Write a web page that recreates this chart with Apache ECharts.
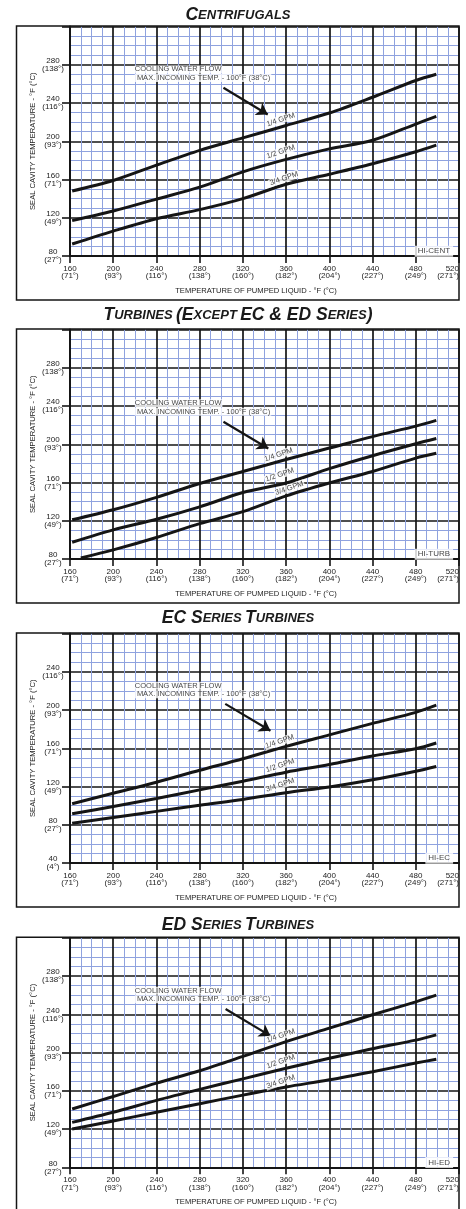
<!DOCTYPE html>
<html><head><meta charset="utf-8">
<script src="https://cdn.jsdelivr.net/npm/echarts@6/dist/echarts.min.js"></script>
<style>html,body{margin:0;padding:0;background:#fff}#c{width:466px;height:1209px}</style>
</head><body><div id="c"></div>
<script>
// ---- tick labels ----
const xTickF = [160, 200, 240, 280, 320, 360, 400, 440, 480, 520];
const xTickC = ['71°', '93°', '116°', '138°', '160°', '182°', '204°', '227°', '249°', '271°'];
const yTickF = [40, 80, 120, 160, 200, 240, 280];
const yTickC = ['4°', '27°', '49°', '71°', '93°', '116°', '138°'];
const gpmNames = ['1/4 GPM', '1/2 GPM', '3/4 GPM'];

// ---- curve data (°F pumped liquid -> °F seal cavity) ----
const xPts = [162, 200, 240, 280, 320, 360, 400, 440, 480, 499];
const xPtsTurb34 = [170, 200, 240, 280, 320, 360, 400, 440, 480, 499];

const cent_q = [148, 159, 175, 190.5, 203.5, 216.5, 229.5, 246, 263.5, 270];
const cent_h = [117, 127, 139.5, 152, 168, 181, 192, 201, 218, 226];
const cent_t = [92.5, 106, 119, 128.5, 140, 155, 165.5, 176.5, 189, 196];

const turb_q = [121, 131.5, 144.5, 159, 171.5, 184, 196, 208, 219, 225];
const turb_h = [97.5, 110.5, 121.5, 134.5, 149.5, 159.5, 174.5, 188, 200.5, 206];
const turb_t = [81, 89.5, 102.5, 117, 129.5, 146, 159.5, 171.5, 185.5, 190.5];

const ec_q = [102, 113, 124.5, 137, 149, 162, 174, 186, 197.5, 205];
const ec_h = [91.5, 99, 107.5, 116.5, 125.5, 135, 143, 152, 159.5, 165.5];
const ec_t = [81.5, 87.5, 94, 100.5, 106.5, 113.5, 119.5, 127, 136, 141];

const ed_q = [141, 154, 168, 181, 196, 211.5, 225.5, 239.5, 253, 260];
const ed_h = [127, 137.5, 150, 161.5, 172.5, 183.5, 194, 204, 213, 218.5];
const ed_t = [120, 128.5, 137.5, 146.5, 155.5, 164, 171.5, 180, 189, 193];

// ---- annotation anchors (data coords) ----
const cent_lbl = [[355, 222.5], [355, 189], [358, 161]];
const turb_lbl = [[353, 189], [354, 168], [363, 154]];
const ec_lbl = [[354, 167], [354.5, 142], [354.5, 121.5]];
const ed_lbl = [[355, 217.5], [355, 190.5], [355, 169.5]];

const cent_arrow = [[302, 256], [343, 228]];
const turb_arrow = [[302, 223.6], [343.5, 195.5]];
const ec_arrow = [[303.7, 206.4], [345.5, 178.3]];
const ed_arrow = [[304, 245.6], [345.5, 217.4]];

const noteY = [270.7, 238.5, 221, 260.2];

const panels = [
  { title: '{L|C}{s|ENTRIFUGALS}', yMin: 80, yMax: 320, tag: 'HI-CENT',
    curves: [[xPts, cent_q], [xPts, cent_h], [xPts, cent_t]], lbl: cent_lbl, arrow: cent_arrow },
  { title: '{L|T}{s|URBINES} {L|(E}{s|XCEPT} {L|EC & ED S}{s|ERIES}{L|)}', yMin: 80, yMax: 320, tag: 'HI-TURB',
    curves: [[xPts, turb_q], [xPts, turb_h], [xPtsTurb34, turb_t]], lbl: turb_lbl, arrow: turb_arrow },
  { title: '{L|EC S}{s|ERIES} {L|T}{s|URBINES}', yMin: 40, yMax: 280, tag: 'HI-EC',
    curves: [[xPts, ec_q], [xPts, ec_h], [xPts, ec_t]], lbl: ec_lbl, arrow: ec_arrow },
  { title: '{L|ED S}{s|ERIES} {L|T}{s|URBINES}', yMin: 80, yMax: 320, tag: 'HI-ED',
    curves: [[xPts, ed_q], [xPts, ed_h], [xPts, ed_t]], lbl: ed_lbl, arrow: ed_arrow }
];

// ---- layout ----
const gridTop = [26.5, 329.5, 633.5, 937.8];
const titleY = [15, 315, 618, 925];
const GH = 229.5, GL = 70, GW = 389;
const FONT = '"Liberation Sans", Arial, sans-serif';
const TFONT = '"Liberation Sans Narrow", "Liberation Sans", Arial, sans-serif';
const BLUE = '#8fa2df';
const INK = '#151515';

const grids = [], xAxes = [], yAxes = [], series = [], graphics = [];

panels.forEach((p, i) => {
  grids.push({ left: GL, top: gridTop[i], width: GW, height: GH, outerBoundsMode: 'none', containLabel: false, show: false });
  xAxes.push({
    type: 'value', gridIndex: i, min: 160, max: 520, interval: 40,
    name: 'TEMPERATURE OF PUMPED LIQUID - °F (°C)', nameLocation: 'middle', nameGap: 30.5,
    nameTextStyle: { fontFamily: FONT, fontSize: 7.6, color: '#222', padding: [0, 17, 0, 0] },
    axisLine: { show: true, lineStyle: { color: INK, width: 2 } },
    axisTick: { show: true, length: 7, inside: false, lineStyle: { color: INK, width: 1.6 } },
    axisLabel: {
      show: true, margin: 9, fontFamily: FONT, fontSize: 8, lineHeight: 7.5, color: '#222',
      alignMaxLabel: 'right',
      formatter: v => { const k = xTickF.indexOf(v); return v + '\n(' + xTickC[k] + ')'; }
    },
    splitLine: { show: true, lineStyle: { color: INK, width: 1.7 } },
    minorTick: { show: true, splitNumber: 4, length: 0 },
    minorSplitLine: { show: true, lineStyle: { color: BLUE, width: 1 } }
  });
  yAxes.push({
    type: 'value', gridIndex: i, min: p.yMin, max: p.yMax, interval: 40,
    name: 'SEAL CAVITY TEMPERATURE - °F (°C)', nameLocation: 'middle', nameGap: 33, nameRotate: 90,
    nameMoveOverlap: false,
    nameTextStyle: { fontFamily: FONT, fontSize: 7.6, color: '#222' },
    axisLine: { show: true, lineStyle: { color: INK, width: 2 } },
    axisTick: { show: true, length: 8, inside: false, lineStyle: { color: INK, width: 1.6 } },
    axisLabel: {
      show: true, showMaxLabel: false, align: 'center', margin: 17,
      fontFamily: FONT, fontSize: 8, lineHeight: 8, color: '#222',
      formatter: v => { const k = yTickF.indexOf(v); return v + '\n(' + yTickC[k] + ')'; }
    },
    splitLine: { show: true, lineStyle: { color: INK, width: 1.7 } },
    minorTick: { show: true, splitNumber: 4, length: 0 },
    minorSplitLine: { show: true, lineStyle: { color: BLUE, width: 1 } }
  });

  p.curves.forEach((c, k) => {
    const s = {
      type: 'line', xAxisIndex: i, yAxisIndex: i, smooth: 0.3, showSymbol: false, symbol: 'none',
      data: c[0].map((x, j) => [x, c[1][j]]),
      lineStyle: { color: INK, width: 3 }, z: 5, silent: true
    };
    if (k === 0) {
      s.markLine = {
        silent: true, symbol: ['none', 'arrow'], symbolSize: 11,
        lineStyle: { color: INK, width: 2.2, type: 'solid' }, label: { show: false },
        emphasis: { disabled: true },
        data: [[{ coord: p.arrow[0] }, { coord: p.arrow[1] }]]
      };
    }
    series.push(s);
  });

  series.push({
    type: 'scatter', xAxisIndex: i, yAxisIndex: i, symbolSize: 1, z: 7, silent: true,
    itemStyle: { color: 'rgba(0,0,0,0)' },
    data: p.lbl.map((pt, k) => ({ value: pt, name: gpmNames[k] })),
    label: { show: true, position: 'inside', formatter: '{b}', rotate: 19, fontFamily: FONT, fontSize: 7.5,
      color: '#111', backgroundColor: '#fff', padding: [0, 1, 0, 1] }
  });
  series.push({
    type: 'scatter', xAxisIndex: i, yAxisIndex: i, symbolSize: 1, z: 7, silent: true,
    itemStyle: { color: 'rgba(0,0,0,0)' },
    data: [{ value: [219.5, noteY[i]], name: 'note' }],
    label: { show: true, position: 'right', distance: 0,
      formatter: '{a|COOLING WATER FLOW}\n{a| MAX. INCOMING TEMP. - 100°F (38°C)}',
      rich: { a: { fontFamily: FONT, fontSize: 7.5, color: '#111', backgroundColor: '#fff', lineHeight: 8.5, padding: [0, 1, 0, 0] } } }
  });
  series.push({
    type: 'scatter', xAxisIndex: i, yAxisIndex: i, symbolSize: 1, z: 7, silent: true,
    itemStyle: { color: 'rgba(0,0,0,0)' },
    data: [{ value: [515, p.yMin + 5], name: p.tag }],
    label: { show: true, position: 'left', distance: 0, formatter: '{b}', fontFamily: FONT, fontSize: 8,
      color: '#111', backgroundColor: '#fff', padding: [2, 3, 1, 3] }
  });

  graphics.push({
    type: 'rect', z: 100, silent: true,
    shape: { x: 16.5, y: gridTop[i] - 0.5, width: 442.5, height: 274 },
    style: { fill: 'none', stroke: INK, lineWidth: 1.5 }
  });
  graphics.push({
    type: 'text', z: 100, silent: true, x: 238, y: titleY[i],
    style: {
      text: p.title, align: 'center', verticalAlign: 'middle',
      rich: {
        L: { fontFamily: TFONT, fontSize: 17.5, fontWeight: 'bold', fontStyle: 'italic', fill: '#1a1a1a' },
        s: { fontFamily: TFONT, fontSize: 13, fontWeight: 'bold', fontStyle: 'italic', fill: '#1a1a1a' }
      }
    }
  });
});

const chart = echarts.init(document.getElementById('c'), null, { renderer: 'canvas' });
chart.setOption({
  animation: false, backgroundColor: '#fff',
  grid: grids, xAxis: xAxes, yAxis: yAxes, series: series, graphic: graphics
});
</script></body></html>
